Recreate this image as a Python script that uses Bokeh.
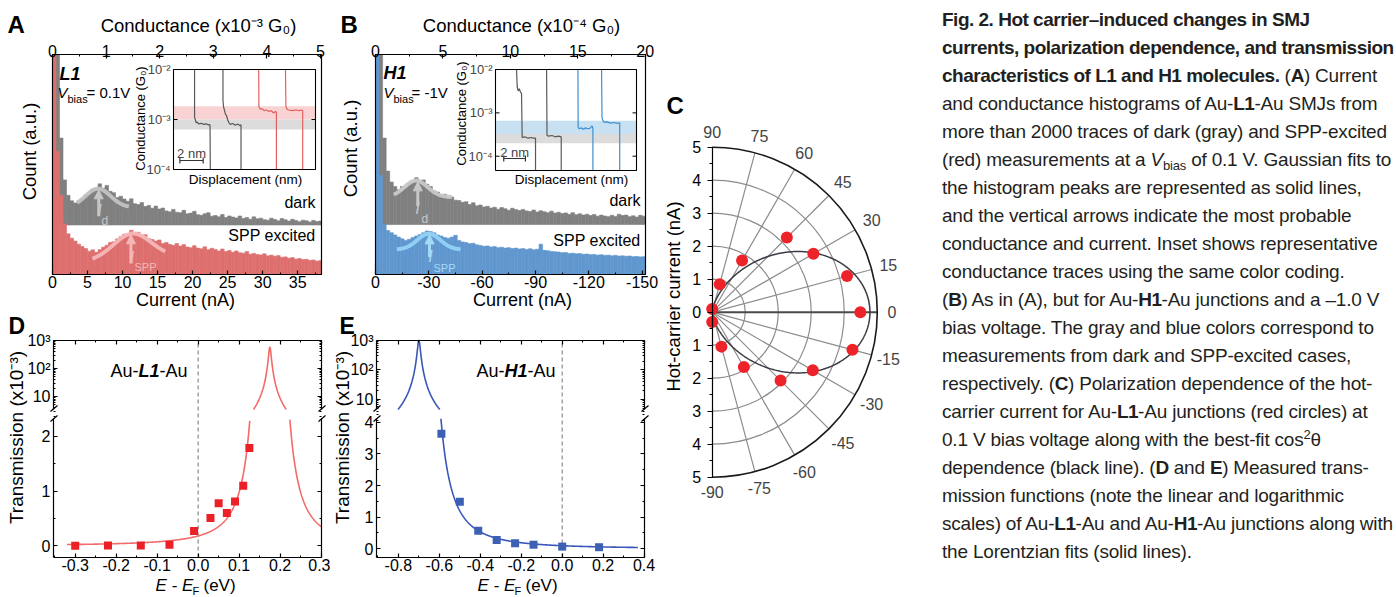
import numpy as np
from bokeh.plotting import figure
from bokeh.models import (Range1d, LinearAxis, LogAxis, LogScale, FixedTicker, Label,
                          Arrow, NormalHead, Div, NumeralTickFormatter)
from bokeh.layouts import row, column
from bokeh.embed import file_html
from bokeh.resources import INLINE

FONT = "Liberation Sans"
PI = np.pi

# ============================ DATA ============================
# (A) Au-L1-Au, Vbias = 0.1 V : current histograms, 0.5 nA bins (normalised counts)
A_BIN = 0.5
A_DARK_OFFSET = 0.225
A_DARK = [1.00, 1.00, 0.62, 0.43, 0.36, 0.335, 0.325, 0.335, 0.345, 0.36,
          0.368, 0.388, 0.386, 0.412, 0.392, 0.405, 0.378, 0.372, 0.35, 0.356,
          0.343, 0.333, 0.344, 0.322, 0.318, 0.327, 0.309, 0.314, 0.301, 0.311,
          0.298, 0.302, 0.289, 0.285, 0.296, 0.283, 0.281, 0.292, 0.276, 0.279,
          0.287, 0.272, 0.269, 0.276, 0.281, 0.265, 0.268, 0.262, 0.273, 0.259,
          0.266, 0.261, 0.257, 0.266, 0.255, 0.259, 0.251, 0.262, 0.253, 0.256,
          0.249, 0.247, 0.256, 0.25, 0.244, 0.254, 0.249, 0.243, 0.251, 0.246,
          0.24, 0.247, 0.244, 0.239, 0.246, 0.241, 0.243]
A_SPP = [1.00, 0.56, 0.36, 0.23, 0.185, 0.165, 0.152, 0.138, 0.127, 0.118,
         0.106, 0.112, 0.101, 0.113, 0.124, 0.133, 0.146, 0.149, 0.162, 0.172,
         0.183, 0.179, 0.201, 0.188, 0.192, 0.173, 0.181, 0.163, 0.159, 0.152,
         0.157, 0.141, 0.146, 0.137, 0.133, 0.141, 0.129, 0.136, 0.125, 0.122,
         0.131, 0.12, 0.117, 0.126, 0.113, 0.119, 0.114, 0.107, 0.116, 0.104,
         0.109, 0.101, 0.107, 0.099, 0.097, 0.104, 0.092, 0.096, 0.091, 0.089,
         0.094, 0.085, 0.088, 0.083, 0.086, 0.078, 0.08, 0.074, 0.077, 0.07,
         0.073, 0.068, 0.069, 0.064, 0.066, 0.061, 0.063]
A_FIT_DARK = dict(mu=6.5, sigma=1.8, amp=0.085, base=0.305, slope=0.0, lo=3.5, hi=10.9)
A_FIT_SPP = dict(mu=11.4, sigma=2.7, amp=0.115, base=0.071, slope=0.0019, lo=5.7, hi=16.1)
A_PEAK_DARK = 6.6
A_PEAK_SPP = 11.2
A_CUR_TICKS = [0, 5, 10, 15, 20, 25, 30, 35]
A_COND_TICKS = [0, 1, 2, 3, 4, 5]
A_TR_X = [[1.81, 1.81, 1.87, 1.95, 2.05, 2.15, 2.4, 2.6, 2.8, 3.0, 3.1, 3.14, 3.16],
          [4.25, 4.25, 4.30, 4.36, 4.45, 4.55, 4.65, 4.74, 4.88, 5.1, 5.3, 5.5, 5.7, 5.80, 5.80],
          [7.32, 7.34, 7.45, 7.6, 7.8, 8.0, 8.2, 8.4, 8.6, 8.75, 8.84, 8.84],
          [9.62, 9.66, 9.76, 9.9, 10.2, 10.5, 10.8, 11.0, 11.1, 11.1]]
A_TR_G = [[1e-2, 1.1e-3, 1.0e-3, 8.6e-4, 8.9e-4, 8.2e-4, 8.4e-4, 8.0e-4, 8.2e-4, 7.8e-4, 7.9e-4, 7.7e-4, 1e-4],
          [1e-2, 2.4e-3, 1.8e-3, 1.6e-3, 1.3e-3, 1.2e-3, 1.0e-3, 8.8e-4, 8.0e-4, 8.3e-4, 7.7e-4, 8.1e-4, 7.6e-4, 7.8e-4, 1e-4],
          [1e-2, 1.8e-3, 1.6e-3, 1.65e-3, 1.5e-3, 1.55e-3, 1.45e-3, 1.5e-3, 1.35e-3, 1.45e-3, 1.4e-3, 1e-4],
          [1e-2, 1.8e-3, 1.6e-3, 1.55e-3, 1.5e-3, 1.55e-3, 1.5e-3, 1.55e-3, 1.5e-3, 1e-4]]
A_TR_KIND = ["dark", "dark", "spp", "spp"]
A_BAND_DARK = (6.3e-4, 1.0e-3)
A_BAND_SPP = (1.0e-3, 1.85e-3)

# (B) Au-H1-Au, Vbias = -1 V : current histograms, 2 nA bins
B_BIN = 2.0
B_DARK_OFFSET = 0.227
B_DARK = [1.0, 1.0, 0.62, 0.47, 0.42, 0.40, 0.385, 0.40, 0.395, 0.415,
          0.42, 0.44, 0.425, 0.43, 0.41, 0.40, 0.38, 0.375, 0.36, 0.365,
          0.345, 0.352, 0.338, 0.336, 0.328, 0.331, 0.318, 0.326, 0.312, 0.316,
          0.307, 0.31, 0.302, 0.306, 0.297, 0.304, 0.299, 0.292, 0.301, 0.295,
          0.291, 0.296, 0.289, 0.286, 0.293, 0.284, 0.29, 0.285, 0.281, 0.288,
          0.279, 0.283, 0.277, 0.28, 0.274, 0.281, 0.272, 0.276, 0.27, 0.274,
          0.268, 0.273, 0.265, 0.27, 0.266, 0.263, 0.269, 0.264, 0.274, 0.268,
          0.27, 0.263, 0.267, 0.261, 0.269, 0.265]
B_SPP = [1.0, 0.45, 0.23, 0.20, 0.19, 0.18, 0.17, 0.162, 0.155, 0.16,
         0.168, 0.175, 0.182, 0.19, 0.198, 0.195, 0.19, 0.18, 0.175, 0.168,
         0.165, 0.17, 0.178, 0.155, 0.148, 0.145, 0.14, 0.142, 0.135, 0.132,
         0.128, 0.13, 0.125, 0.127, 0.122, 0.124, 0.12, 0.122, 0.118, 0.12,
         0.116, 0.118, 0.114, 0.117, 0.112, 0.115, 0.138, 0.11, 0.108, 0.105,
         0.103, 0.102, 0.099, 0.10, 0.096, 0.097, 0.094, 0.095, 0.092, 0.093,
         0.09, 0.091, 0.088, 0.09, 0.087, 0.088, 0.085, 0.087, 0.084, 0.085,
         0.083, 0.084, 0.081, 0.082, 0.08, 0.081]
B_FIT_DARK = dict(mu=-22.8, sigma=6.5, amp=0.075, base=0.352, slope=0.0, lo=-10.3, hi=-43.0)
B_FIT_SPP = dict(mu=-30.0, sigma=6.5, amp=0.072, base=0.113, slope=0.0, lo=-12.0, hi=-47.8)
B_PEAK_DARK = -23.8
B_PEAK_SPP = -30.4
B_CUR_TICKS = [0, -30, -60, -90, -120, -150]
B_COND_TICKS = [0, 5, 10, 15, 20]
B_TR_X = [[1.94, 2.0, 2.09, 2.2, 2.3, 2.4, 2.46, 2.7, 3.0, 3.3, 3.5, 3.69, 3.69],
          [4.71, 4.75, 4.9, 5.2, 5.5, 5.8, 6.06, 6.06],
          [7.60, 7.62, 7.7, 7.9, 8.1, 8.3, 8.5, 8.7, 8.9, 8.98, 8.98],
          [9.78, 9.82, 9.9, 10.0, 10.3, 10.6, 10.9, 11.2, 11.38, 11.45, 11.45]]
B_TR_G = [[1e-2, 4e-3, 3.2e-3, 3.6e-3, 3.0e-3, 2.8e-3, 2.7e-4, 2.8e-4, 2.6e-4, 2.7e-4, 2.6e-4, 2.6e-4, 4.7e-5],
          [1e-2, 3.0e-4, 2.9e-4, 3.0e-4, 2.8e-4, 2.9e-4, 2.8e-4, 4.7e-5],
          [1e-2, 4.6e-4, 4.3e-4, 4.5e-4, 4.2e-4, 4.5e-4, 4.3e-4, 4.4e-4, 5.0e-4, 4.4e-4, 4.7e-5],
          [1e-2, 7.9e-4, 6.6e-4, 6.1e-4, 6.2e-4, 5.8e-4, 6.0e-4, 5.7e-4, 5.9e-4, 5.8e-4, 4.7e-5]]
B_TR_KIND = ["dark", "dark", "spp", "spp"]
B_BAND_DARK = (2.0e-4, 3.27e-4)
B_BAND_SPP = (3.27e-4, 6.6e-4)

# (C) polarization dependence of the hot-carrier current
C_ANGLE_DEG = [90, 75, 60, 45, 30, 15, 0, -15, -30, -45, -60, -75, -90]
C_CURRENT = [0.10, 0.88, 1.81, 3.20, 3.54, 4.23, 4.49, 4.40, 3.52, 2.93, 1.92, 1.08, 0.30]
C_FIT_AMP = 4.78
C_RINGS = [1, 2, 3, 4, 5]
C_GRID_DEG = [90, 75, 60, 45, 30, 15, 0, -15, -30, -45, -60, -75, -90]
C_TICKS = [-5, -4, -3, -2, -1, 0, 1, 2, 3, 4, 5]

# (D) Au-L1-Au transmission (x1e-3)
D_E = [-0.30, -0.22, -0.14, -0.07, -0.01, 0.03, 0.05, 0.07, 0.09, 0.11, 0.125]
D_T = [0.00, 0.006, 0.006, 0.018, 0.27, 0.51, 0.78, 0.60, 0.81, 1.10, 1.79]
D_LOR = dict(E0=0.175, A=575.0, hw=0.0031)
D_XTICKS = [-0.3, -0.2, -0.1, 0.0, 0.1, 0.2, 0.3]
D_YTICKS = [0, 1, 2]
# (E) Au-H1-Au transmission (x1e-3)
E_E = [-0.59, -0.50, -0.41, -0.32, -0.23, -0.14, 0.00, 0.18]
E_T = [3.64, 1.49, 0.57, 0.28, 0.175, 0.13, 0.07, 0.05]
E_LOR = dict(E0=-0.70, A=1000.0, hw=0.00693)
E_XTICKS = [-0.8, -0.6, -0.4, -0.2, 0.0, 0.2, 0.4]
E_YTICKS = [0, 1, 2, 3, 4]
LOG_TICKS = [10, 100, 1000]

# ============================ HELPERS ============================
SUP = str.maketrans("-0123456789", "⁻⁰¹²³⁴⁵⁶⁷⁸⁹")


class Lin:
    """maps page pixel p0 -> value v0 and p1 -> v1 (linear or log10)"""
    def __init__(s, p0, p1, v0, v1, log=False):
        s.p0, s.p1, s.log, s.a, s.b = p0, p1, log, v0, v1
        s.v0, s.v1 = (np.log10(v0), np.log10(v1)) if log else (v0, v1)

    def __call__(s, p):
        v = s.v0 + (p - s.p0) / (s.p1 - s.p0) * (s.v1 - s.v0)
        return 10 ** v if s.log else v

    def rng(s, a, b):
        return Range1d(float(s(a)), float(s(b)))

    def per_px(s):
        return (s.v1 - s.v0) / (s.p1 - s.p0)


def canvas(box, X, Y):
    bx0, bx1, by0, by1 = box
    p = figure(width=bx1 - bx0, height=by1 - by0, x_range=X.rng(bx0, bx1), y_range=Y.rng(by1, by0),
               x_axis_location=None, y_axis_location=None,
               min_border=0, min_border_left=0, min_border_right=0, min_border_top=0,
               min_border_bottom=0, output_backend="svg", toolbar_location=None)
    if p.title is not None:
        p.title.visible = False
    p.grid.visible = False
    p.outline_line_color = None
    p.background_fill_color = "white"
    p.border_fill_color = "white"
    return p


def axis(p, side, ticks, minor, loc, bounds, labels=True, log=False, rname=None, size=16,
         tin=4, tout=0, mtin=2, mtout=0, standoff=2, fmt=None, overrides=None):
    cls = LogAxis if log else LinearAxis
    extra = {}
    if rname is not None:
        extra["x_range_name" if side in ("above", "below") else "y_range_name"] = rname
    ax = cls(ticker=FixedTicker(ticks=list(ticks), minor_ticks=list(minor)),
             fixed_location=float(loc), bounds=(float(bounds[0]), float(bounds[1])), **extra)
    if fmt is not None:
        ax.formatter = NumeralTickFormatter(format=fmt)
    if overrides:
        ax.major_label_overrides = overrides
    ax.major_label_text_font = FONT
    ax.major_label_text_font_size = f"{size}px"
    ax.major_label_text_color = "black"
    if not labels:
        ax.major_label_text_alpha = 0.0
    ax.major_label_standoff = standoff
    ax.major_tick_in, ax.major_tick_out = tin, tout
    ax.minor_tick_in, ax.minor_tick_out = mtin, mtout
    ax.axis_line_color = "black"
    ax.axis_line_width = 1.2
    ax.major_tick_line_color = "black"
    ax.major_tick_line_width = 1.2
    ax.minor_tick_line_color = "black"
    ax.minor_tick_line_width = 1
    p.add_layout(ax, side)
    return ax


def lab(p, X, Y, px, py, text, size, align="left", base="middle", style="normal",
        color="black", angle=0.0):
    p.add_layout(Label(x=float(X(px)), y=float(Y(py)), text=text, text_font=FONT,
                       text_font_size=f"{size}px", text_align=align, text_baseline=base,
                       text_font_style=style, text_color=color, angle=angle))


def gfit(f, x):
    x = np.asarray(x, float)
    return f["base"] + f["slope"] * (x - f["mu"]) + f["amp"] * np.exp(-(x - f["mu"]) ** 2 / (2 * f["sigma"] ** 2))


def lorentz(f, e):
    e = np.asarray(e, float)
    return f["A"] * f["hw"] ** 2 / ((e - f["E0"]) ** 2 + f["hw"] ** 2)


def draw_hist(p, vals, bin_w, sign, bottom, color, xmax):
    vals = np.asarray(vals, float)
    idx = np.arange(len(vals))
    e0 = sign * idx * bin_w
    e1 = sign * (idx + 1) * bin_w
    lo, hi = np.minimum(e0, e1), np.maximum(e0, e1)
    if sign > 0:
        hi = np.minimum(hi, xmax)
    else:
        lo = np.maximum(lo, xmax)
    p.quad(left=lo, right=hi, bottom=bottom, top=vals,
           fill_color=color, line_color=color, line_width=0.6)


def peak_arrow(p, x, y_end, length, color):
    p.add_layout(Arrow(end=NormalHead(size=9, fill_color=color, line_color=color),
                       x_start=x, y_start=y_end - length, x_end=x, y_end=y_end,
                       line_color=color, line_width=3))


def inset(p, box, X, Y, IX, IY, tr_x, tr_g, tr_kind, cols, bands, tick_px, ylab, xlab,
          bar_x0, bar_py, bar_txt_py):
    bx0, bx1, by0, by1 = box
    p.extra_x_ranges = {**p.extra_x_ranges, "ix": IX.rng(bx0, bx1)}
    p.extra_y_ranges = {"iy": IY.rng(by1, by0)}
    p.extra_y_scales = {"iy": LogScale()}
    R = dict(x_range_name="ix", y_range_name="iy")
    w = IX.b
    gl, gh = IY.a, IY.b
    p.quad(left=0, right=w, bottom=gl, top=gh, fill_color="white", line_color=None, **R)
    for (b0, b1), c in bands:
        p.quad(left=0, right=w, bottom=b0, top=b1, fill_color=c, line_color=None, **R)
    for xs, gs, k in zip(tr_x, tr_g, tr_kind):
        p.line(xs, gs, line_color=cols[k], line_width=1.2, **R)
    p.quad(left=0, right=w, bottom=gl, top=gh, fill_color=None, line_color="black",
           line_width=1.1, **R)
    decs = list(range(int(np.ceil(IY.v0 - 1e-9)), int(np.floor(IY.v1 + 1e-9)) + 1))
    dv = [10.0 ** k for k in decs]
    tl = 4 * IX.per_px()
    p.segment(x0=[0] * len(dv), y0=dv, x1=[tl] * len(dv), y1=dv, line_color="black", **R)
    p.segment(x0=[w] * len(dv), y0=dv, x1=[w - tl] * len(dv), y1=dv, line_color="black", **R)
    for k, v in zip(decs, dv):
        p.add_layout(Label(x=float(X(tick_px)), y=v, y_range_name="iy",
                           text="10" + str(k).translate(SUP), text_font=FONT,
                           text_font_size="13px", text_align="right", text_baseline="middle"))
    yb = IY(bar_py)
    p.segment(x0=[bar_x0, bar_x0, bar_x0 + 2.0], y0=[yb, IY(bar_py + 3), IY(bar_py + 3)],
              x1=[bar_x0 + 2.0, bar_x0, bar_x0 + 2.0], y1=[yb, IY(bar_py - 3), IY(bar_py - 3)],
              line_color="#333333", line_width=1.2, **R)
    p.add_layout(Label(x=bar_x0 + 1.0, y=float(IY(bar_txt_py)), x_range_name="ix",
                       y_range_name="iy", text="2 nm", text_font=FONT, text_font_size="13px",
                       text_align="center", text_baseline="middle"))
    lab(p, X, Y, ylab[0], ylab[1], "Conductance (G₀)", 13, align="center", angle=PI / 2)
    lab(p, X, Y, xlab[0], xlab[1], "Displacement (nm)", 13.5, align="center")


# ============================ PANEL A ============================
BOX_A = (0, 338, 0, 311)
XA = Lin(52, 321, 0.0, 38.4)
YA = Lin(274, 54, 0.0, 1.0)
XAc = Lin(52, 321, 0.0, 5.02)
pA = canvas(BOX_A, XA, YA)
pA.extra_x_ranges = {"cond": XAc.rng(BOX_A[0], BOX_A[1])}
draw_hist(pA, A_DARK, A_BIN, 1, A_DARK_OFFSET, "#808080", XA.b)
draw_hist(pA, A_SPP, A_BIN, 1, 0, "#dd6f6f", XA.b)
for f, c in ((A_FIT_DARK, "#c2c2c2"), (A_FIT_SPP, "#f5b7b7")):
    xx = np.linspace(f["lo"], f["hi"], 120)
    pA.line(xx, gfit(f, xx), line_color=c, line_width=4, line_alpha=0.95)
pA.quad(left=XA.a, right=XA.b, bottom=YA.a, top=YA.b, fill_color=None, line_color="black",
        line_width=1.2)
axis(pA, "below", A_CUR_TICKS, [t + 2.5 for t in A_CUR_TICKS], YA.a, (XA.a, XA.b), fmt="0",
     standoff=1)
axis(pA, "above", A_COND_TICKS, [t + 0.5 for t in A_COND_TICKS[:-1]], YA.b, (XAc.a, XAc.b),
     rname="cond", fmt="0", standoff=-2)
peak_arrow(pA, A_PEAK_DARK, float(gfit(A_FIT_DARK, A_PEAK_DARK)) - 0.005, 0.12, "#c6c6c6")
peak_arrow(pA, A_PEAK_SPP, float(gfit(A_FIT_SPP, A_PEAK_SPP)) - 0.005, 0.13, "#f5b7b7")
inset(pA, BOX_A, XA, YA, Lin(173, 315, 0.0, 12.2), Lin(169, 69, 1e-4, 1e-2, log=True),
      A_TR_X, A_TR_G, A_TR_KIND, {"dark": "#595959", "spp": "#e36060"},
      [(A_BAND_SPP, "#f9d3d3"), (A_BAND_DARK, "#dcdcdc")],
      170, (140, 118), (245, 179), 0.55, 160, 153)
lab(pA, XA, YA, 7, 24, "A", 24, style="bold")
lab(pA, XA, YA, 198, 25, "Conductance (x10⁻³ G₀)", 18.5, align="center")
lab(pA, XA, YA, 29, 151, "Count (a.u.)", 18.5, align="center", angle=PI / 2)
lab(pA, XA, YA, 185, 299, "Current (nA)", 18, align="center")
lab(pA, XA, YA, 59, 73, "L1", 18, style="bold italic")
lab(pA, XA, YA, 57, 92, "V", 15, style="italic")
lab(pA, XA, YA, 67, 98, "bias", 11)
lab(pA, XA, YA, 86, 92, "= 0.1V", 15)
lab(pA, XA, YA, 315, 202, "dark", 16, align="right")
lab(pA, XA, YA, 315, 235, "SPP excited", 16, align="right")
lab(pA, XA, YA, 99, 210, "I", 16, align="center", style="italic", color="#c6c6c6")
lab(pA, XA, YA, 101, 220, "d", 12, color="#c6c6c6")
lab(pA, XA, YA, 131.5, 257, "I", 16, align="center", style="italic", color="#f5b7b7")
lab(pA, XA, YA, 134, 266, "SPP", 11, color="#f5b7b7")

# ============================ PANEL B ============================
BOX_B = (338, 660, 0, 311)
XB = Lin(375, 645, 0.0, -151.9)
YB = Lin(274, 54, 0.0, 1.0)
XBc = Lin(375, 645, 0.0, 20.02)
pB = canvas(BOX_B, XB, YB)
pB.extra_x_ranges = {"cond": XBc.rng(BOX_B[0], BOX_B[1])}
draw_hist(pB, B_DARK, B_BIN, -1, B_DARK_OFFSET, "#808080", XB.b)
draw_hist(pB, B_SPP, B_BIN, -1, 0, "#6097cf", XB.b)
for f, c in ((B_FIT_DARK, "#c8c8c8"), (B_FIT_SPP, "#92d3f5")):
    xx = np.linspace(f["lo"], f["hi"], 120)
    pB.line(xx, gfit(f, xx), line_color=c, line_width=4, line_alpha=0.95)
pB.quad(left=XB.b, right=XB.a, bottom=YB.a, top=YB.b, fill_color=None, line_color="black",
        line_width=1.2)
axis(pB, "below", B_CUR_TICKS, [t - 15 for t in B_CUR_TICKS[:-1]], YB.a, (XB.b, XB.a),
     fmt="0", standoff=1)
axis(pB, "above", B_COND_TICKS, [t + 2.5 for t in B_COND_TICKS[:-1]], YB.b, (XBc.a, XBc.b),
     rname="cond", fmt="0", standoff=-2)
peak_arrow(pB, B_PEAK_DARK, float(gfit(B_FIT_DARK, B_PEAK_DARK)) - 0.005, 0.11, "#c8c8c8")
peak_arrow(pB, B_PEAK_SPP, float(gfit(B_FIT_SPP, B_PEAK_SPP)) - 0.005, 0.10, "#a3dbf7")
inset(pB, BOX_B, XB, YB, Lin(495, 636, 0.0, 13.0), Lin(170, 69, 10 ** -4.33, 1e-2, log=True),
      B_TR_X, B_TR_G, B_TR_KIND, {"dark": "#595959", "spp": "#3d8fd1"},
      [(B_BAND_SPP, "#c7e1f2"), (B_BAND_DARK, "#dcdcdc")],
      492, (461, 113), (571, 179), 0.76, 158, 152)
lab(pB, XB, YB, 340, 24, "B", 24, style="bold")
lab(pB, XB, YB, 521, 25, "Conductance (x10⁻⁴ G₀)", 18.5, align="center")
lab(pB, XB, YB, 350, 148, "Count (a.u.)", 18.5, align="center", angle=PI / 2)
lab(pB, XB, YB, 522, 299, "Current (nA)", 18, align="center")
lab(pB, XB, YB, 383, 72, "H1", 18, style="bold italic")
lab(pB, XB, YB, 383, 92, "V", 15, style="italic")
lab(pB, XB, YB, 393, 98, "bias", 11)
lab(pB, XB, YB, 411, 92, "= -1V", 15)
lab(pB, XB, YB, 640, 200, "dark", 16, align="right")
lab(pB, XB, YB, 640, 240, "SPP excited", 16, align="right")
lab(pB, XB, YB, 417, 208, "I", 16, align="center", style="italic", color="#c8c8c8")
lab(pB, XB, YB, 421, 218, "d", 12, color="#c8c8c8")
lab(pB, XB, YB, 430, 256, "I", 16, align="center", style="italic", color="#a3dbf7")
lab(pB, XB, YB, 433, 267, "SPP", 11, color="#a3dbf7")

# ============================ PANEL C ============================
BOX_C = (660, 925, 0, 597)
XC = Lin(711.7, 876.7, 0.0, 5.0)
YC = Lin(311.7, 146.7, 0.0, 5.0)
pC = canvas(BOX_C, XC, YC)
pC.arc(x=0, y=0, radius=C_RINGS[:-1], start_angle=-PI / 2, end_angle=PI / 2,
       line_color="#8c8c8c", line_width=1.2)
spokes = np.deg2rad([a for a in C_GRID_DEG if a not in (90, -90, 0)])
pC.segment(x0=0, y0=0, x1=C_RINGS[-1] * np.cos(spokes), y1=C_RINGS[-1] * np.sin(spokes),
           line_color="#8c8c8c", line_width=1.2)
pC.segment(x0=[0], y0=[0], x1=[C_RINGS[-1]], y1=[0], line_color="#4a4a4a", line_width=2)
pC.arc(x=0, y=0, radius=C_RINGS[-1], start_angle=-PI / 2, end_angle=PI / 2,
       line_color="#1a1a1a", line_width=1.6)
th = np.linspace(-PI / 2, PI / 2, 361)
rr = C_FIT_AMP * np.cos(th) ** 2
pC.line(rr * np.cos(th), rr * np.sin(th), line_color="#3c3c46", line_width=1.5)
axis(pC, "left", C_TICKS, [t + 0.5 for t in C_TICKS[:-1]], 0.0, (-5, 5), tin=0, tout=5,
     mtin=0, mtout=3, standoff=6, overrides={t: str(abs(t)) for t in C_TICKS})
ang = np.deg2rad(C_ANGLE_DEG)
cur = np.asarray(C_CURRENT)
pC.scatter(cur * np.cos(ang), cur * np.sin(ang), size=12, fill_color="#ee2229", line_color=None)
for a in C_GRID_DEG:
    t = np.deg2rad(a)
    r = 5.45 + 0.15 * abs(np.sin(2 * t))
    pC.add_layout(Label(x=float(r * np.cos(t)), y=float(r * np.sin(t)), text=str(a),
                        text_font=FONT, text_font_size="16px", text_align="center",
                        text_baseline="middle"))
lab(pC, XC, YC, 666, 105, "C", 24, style="bold")
lab(pC, XC, YC, 673, 296, "Hot-carrier current (nA)", 18.5, align="center", angle=PI / 2)


# ============================ PANELS D & E ============================
def trans_panel(box, X, Y, YL, xticks, xminor, yticks, yminor, E, T, lor, pcol, lcol,
                e_bot, e_top, txt):
    p = canvas(box, X, Y)
    p.extra_y_ranges = {"log": YL.rng(box[3], box[2])}
    p.extra_y_scales = {"log": LogScale()}
    xl, xr = X.a, X.b
    yb, yt = Y.a, Y.b
    lb, lt = YL.a, YL.b
    ytop_main = Y(YL.p1)
    logminor = [k * 10.0 ** d for d in (0, 1, 2) for k in range(2, 10)]
    ov = {10: "10", 100: "10²", 1000: "10³"}
    p.segment(x0=[0], y0=[yb], x1=[0], y1=[ytop_main], line_color="#8a8a8a",
              line_dash="4 3", line_width=1.2)
    eb = np.sort(np.append(np.linspace(e_bot[0], e_bot[1], 1200), lor["E0"]))
    tb = lorentz(lor, eb)
    p.line(eb, np.where(tb <= yt, tb, np.nan), line_color=lcol, line_width=1.6)
    et = np.sort(np.append(np.linspace(e_top[0], e_top[1], 1200), lor["E0"]))
    tt = lorentz(lor, et)
    p.line(et, np.where(tt >= lb, tt, np.nan), line_color=lcol, line_width=1.6, y_range_name="log")
    p.scatter(E, T, marker="square", size=8, fill_color=pcol, line_color=None)
    axis(p, "below", xticks, xminor, yb, (xl, xr), fmt="0.0", standoff=1)
    axis(p, "above", xticks, xminor, ytop_main, (xl, xr), labels=False)
    axis(p, "left", yticks, yminor, xl, (yb, yt), fmt="0", standoff=3)
    axis(p, "right", yticks, yminor, xr, (yb, yt), labels=False)
    axis(p, "left", LOG_TICKS, logminor, xl, (lb, lt), log=True, rname="log", overrides=ov,
         standoff=3)
    axis(p, "right", LOG_TICKS, logminor, xr, (lb, lt), log=True, rname="log", labels=False)
    for fx in (X.p0, X.p1):
        p.segment(x0=[X(fx - 3), X(fx - 3)], y0=[Y(411), Y(421)],
                  x1=[X(fx + 4), X(fx + 4)], y1=[Y(405), Y(415)],
                  line_color="black", line_width=1.2)
    (a1, a2, a3, mol, xl_px, tx, letter_x) = txt
    lab(p, X, Y, a1, 370, "Au-", 18)
    lab(p, X, Y, a2, 370, mol, 18, style="bold italic")
    lab(p, X, Y, a3, 370, "-Au", 18)
    lab(p, X, Y, xl_px, 585, "E - E", 17, style="italic")
    lab(p, X, Y, xl_px + 37, 590, "F", 11)
    lab(p, X, Y, xl_px + 48, 585, "(eV)", 17)
    lab(p, X, Y, tx, 437, "Transmission (x10⁻³)", 19, align="center", angle=PI / 2)
    lab(p, X, Y, letter_x, 312, "D" if mol == "L1" else "E", 23, style="bold", base="top")
    return p


pD = trans_panel((0, 330, 311, 597), Lin(53, 321, -0.353, 0.301), Lin(557, 418, -0.214, 2.329),
                 Lin(409, 340, 10 ** 0.536, 1000.0, log=True),
                 D_XTICKS, [t + 0.05 for t in D_XTICKS[:-1]] + [-0.35],
                 D_YTICKS, [0.5, 1.5], D_E, D_T, D_LOR, "#ec2027", "#f26a6a",
                 (-0.32, 0.301), (0.08, 0.28), (110, 138, 159, "L1", 155, 16, 8))
pE = trans_panel((330, 660, 311, 597), Lin(376, 644, -0.907, 0.402), Lin(557, 418, -0.275, 4.12),
                 Lin(409, 340, 10 ** 0.661, 1000.0, log=True),
                 E_XTICKS, [t + 0.1 for t in E_XTICKS[:-1]] + [-0.9],
                 E_YTICKS, [0.5, 1.5, 2.5, 3.5], E_E, E_T, E_LOR, "#3c60b4", "#3a56b8",
                 (-0.66, 0.37), (-0.82, -0.58), (476, 504, 527, "H1", 477, 342, 339))

# ============================ CAPTION ============================
SUBS = '<sub style="font-size:13px;line-height:0;vertical-align:-4px">bias</sub>'
CAP = ("<div style=\"padding-left:17px;padding-top:6px;font-family:'Liberation Sans Narrow',"
       "'Liberation Sans',sans-serif;font-size:19px;line-height:28px;letter-spacing:-0.2px;"
       "color:#231f20;white-space:nowrap;\">"
       "<style>b{letter-spacing:-0.5px}</style>"
       "<b>Fig. 2. Hot carrier&ndash;induced changes in SMJ</b><br>"
       "<b>currents, polarization dependence, and transmission</b><br>"
       "<b>characteristics of L1 and H1 molecules.</b> (<b>A</b>) Current<br>"
       "and conductance histograms of Au-<b>L1</b>-Au SMJs from<br>"
       "more than 2000 traces of dark (gray) and SPP-excited<br>"
       "(red) measurements at a <i>V</i>" + SUBS + " of 0.1 V. Gaussian fits to<br>"
       "the histogram peaks are represented as solid lines,<br>"
       "and the vertical arrows indicate the most probable<br>"
       "conductance and current. Inset shows representative<br>"
       "conductance traces using the same color coding.<br>"
       "(<b>B</b>) As in (A), but for Au-<b>H1</b>-Au junctions and a &ndash;1.0 V<br>"
       "bias voltage. The gray and blue colors correspond to<br>"
       "measurements from dark and SPP-excited cases,<br>"
       "respectively. (<b>C</b>) Polarization dependence of the hot-<br>"
       "carrier current for Au-<b>L1</b>-Au junctions (red circles) at<br>"
       "0.1 V bias voltage along with the best-fit cos<sup style=\"font-size:13px;line-height:0\">2</sup>&theta;<br>"
       "dependence (black line). (<b>D</b> and <b>E</b>) Measured trans-<br>"
       "mission functions (note the linear and logarithmic<br>"
       "scales) of Au-<b>L1</b>-Au and Au-<b>H1</b>-Au junctions along with<br>"
       "the Lorentzian fits (solid lines).</div>")
caption = Div(text=CAP, width=471, height=597,
              styles={"overflow": "visible", "margin": "0", "padding": "0"})

left = column(row(pA, pB), row(pD, pE))
page = row(left, pC, caption)
open("out.html", "w").write(file_html(page, INLINE, title="Fig. 2"))
